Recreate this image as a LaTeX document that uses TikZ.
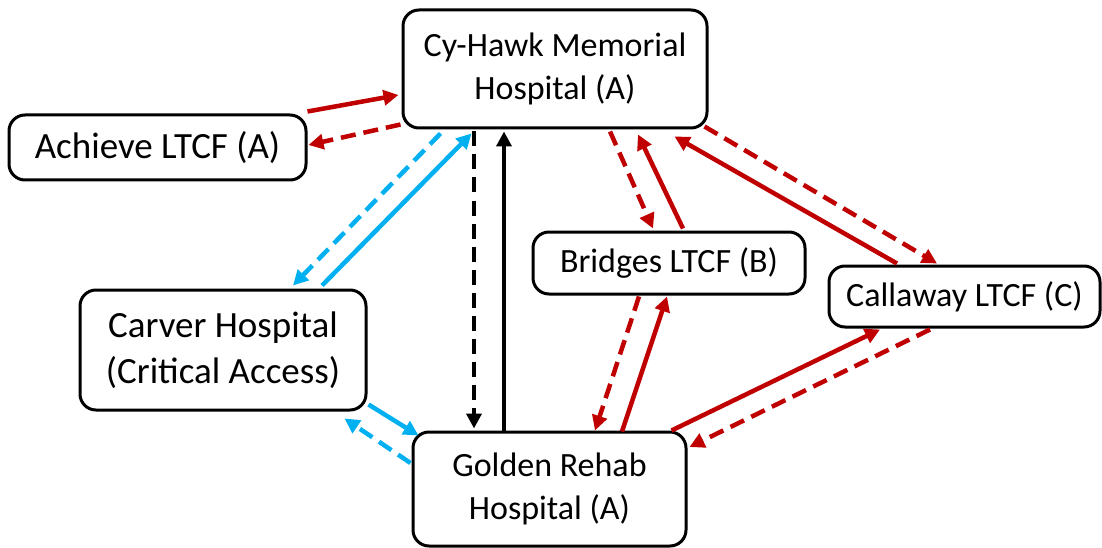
\documentclass[tikz,border=0pt]{standalone}
\usepackage{fontspec}
\setmainfont{Carlito}
\usetikzlibrary{arrows.meta,calc}
\definecolor{dred}{HTML}{C00000}
\definecolor{sky}{HTML}{00B0F0}
\begin{document}
\begin{tikzpicture}[x=1pt,y=-1pt,
  box/.style={draw=black,line width=3pt,rounded corners=16pt,fill=white,inner sep=0pt,align=center,font=\fontsize{34}{43}\selectfont},
  bigtext/.style={font=\fontsize{37}{46}\selectfont},
  conn/.style={line width=4.5pt,-{Triangle[length=15pt,width=15pt]}},
  dsh/.style={dash pattern=on 15pt off 8pt},
  r/.style={conn,draw=dred},
  b/.style={conn,draw=sky},
  k/.style={conn,draw=black}]
\useasboundingbox (0,0) rectangle (1102,548);
\node[box,minimum width=304pt,minimum height=118pt] (cy) at (555,69) {Cy-Hawk Memorial\\Hospital (A)};
\node[box,bigtext,minimum width=297pt,minimum height=65pt] (ach) at (157.5,147.5) {Achieve LTCF (A)};
\node[box,minimum width=272pt,minimum height=62pt] (bri) at (669,263) {Bridges LTCF (B)};
\node[box,minimum width=271pt,minimum height=61pt] (cal) at (964.5,296.5) {Callaway LTCF (C)};
\node[box,bigtext,minimum width=286pt,minimum height=120pt] (car) at (223,350) {Carver Hospital\\(Critical Access)};
\node[box,minimum width=273pt,minimum height=114pt] (gold) at (549.5,489) {Golden Rehab\\Hospital (A)};
% Achieve <-> Cy-Hawk
\draw[r] ($(ach.north east)+(0,-2)$) -- ($(cy.west)+(-3,26)$);
\draw[r,dsh] ($(cy.south west)+(-1,-5)$) -- ($(ach.east)+(1,-2.5)$);
% Cy-Hawk <-> Carver
\draw[b,dsh] ($(cy.south west)+(39,4)$) -- ($(car.north)+(70,-3)$);
\draw[b] ($(car.north)+(99,-3)$) -- ($(cy.south west)+(70,4)$);
% Cy-Hawk <-> Golden
\draw[k,dsh] ($(cy.south)+(-81,2)$) -- ($(gold.north)+(-75.5,-2)$);
\draw[k] ($(gold.north)+(-45.5,0)$) -- ($(cy.south)+(-51,2)$);
% Cy-Hawk <-> Bridges
\draw[r,dsh] ($(cy.south)+(55,2)$) -- ($(bri.north)+(-16,-2)$);
\draw[r] ($(bri.north)+(14,-2)$) -- ($(cy.south)+(83,5)$);
% Cy-Hawk <-> Callaway
\draw[r] ($(cal.north)+(-67.5,-1)$) -- ($(cy.south east)+(-34,7)$);
\draw[r,dsh] ($(cy.south east)+(-4,-3)$) -- ($(cal.north)+(-27.5,-1)$);
% Bridges <-> Golden
\draw[r,dsh] ($(bri.south)+(-30,1)$) -- ($(gold.north)+(45.5,0)$);
\draw[r] ($(gold.north)+(72.5,1)$) -- ($(bri.south)+(-2,1)$);
% Golden <-> Callaway
\draw[r] ($(gold.north east)+(-16,0)$) -- ($(cal.south)+(-84.5,1)$);
\draw[r,dsh] ($(cal.south)+(-34.5,1)$) -- ($(gold.east)+(2,-42)$);
% Carver <-> Golden
\draw[b] ($(car.south east)+(1,-7)$) -- ($(gold.north west)+(7,5)$);
\draw[b,dsh] ($(gold.west)+(-1,-26)$) -- ($(car.south east)+(-23,7)$);
\end{tikzpicture}
\end{document}
